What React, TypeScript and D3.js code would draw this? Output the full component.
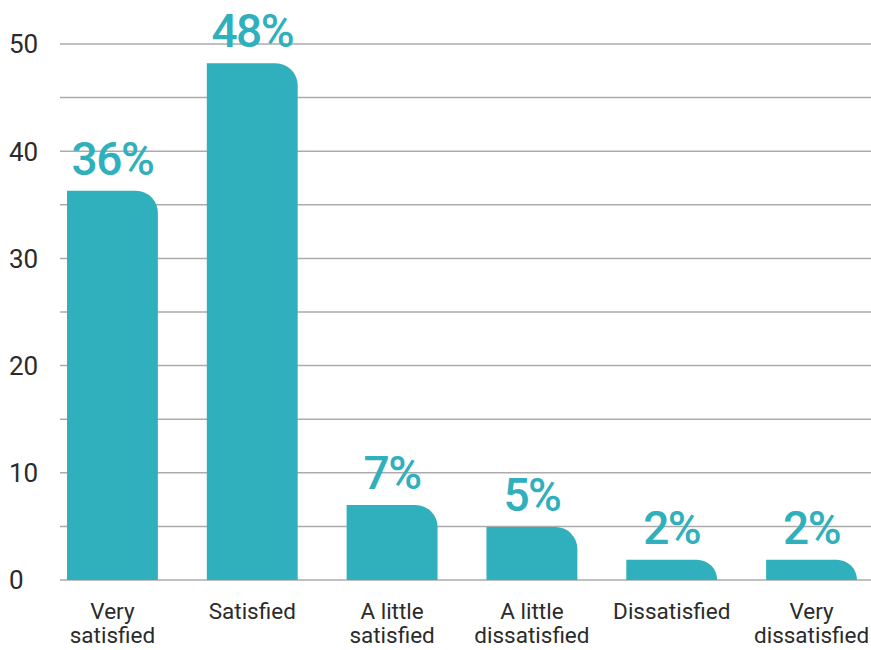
import React from "react";
import * as d3 from "d3";

const categories: string[][] = [
  ["Very", "satisfied"],
  ["Satisfied"],
  ["A little", "satisfied"],
  ["A little", "dissatisfied"],
  ["Dissatisfied"],
  ["Very", "dissatisfied"],
];
const values: number[] = [36.3, 48.2, 7.0, 4.95, 1.9, 1.9];
const valueLabels: string[] = ["36%", "48%", "7%", "5%", "2%", "2%"];
const yTickLabels: number[] = [0, 10, 20, 30, 40, 50];
const gridValues: number[] = [0, 5, 10, 15, 20, 25, 30, 35, 40, 45, 50];

const W = 871;
const H = 650;
const TEAL = "#2fb0bc";

function barPath(x: number, y: number, w: number, h: number, r: number) {
  const rr = Math.min(r, h, w);
  return `M${x},${y + h} L${x},${y} L${x + w - rr},${y} A${rr},${rr} 0 0 1 ${x + w},${y + rr} L${x + w},${y + h} Z`;
}

export default function App() {
  const y = d3.scaleLinear().domain([0, 50]).range([580, 44]);
  const x = d3
    .scaleBand<number>()
    .domain(d3.range(values.length))
    .range([60, 864])
    .paddingInner(0.35)
    .paddingOuter(0.05);

  return (
    <svg
      width={W}
      height={H}
      style={{ position: "absolute", left: 0, top: 0, background: "#fff" }}
    >
      {gridValues.map((g) => (
        <line
          key={g}
          x1={60}
          x2={W}
          y1={y(g)}
          y2={y(g)}
          stroke="#ababab"
          strokeWidth={1.5}
        />
      ))}
      {yTickLabels.map((t) => (
        <text
          key={t}
          x={9}
          y={y(t)}
          dy="0.36em"
          fontFamily="Roboto, sans-serif"
          fontWeight={400}
          fontSize={26}
          fill="#2b2b2b"
        >
          {t}
        </text>
      ))}
      {values.map((v, i) => {
        const bx = x(i)!;
        const bw = x.bandwidth();
        const by = y(v);
        const bh = y(0) - by;
        return (
          <g key={i}>
            <path d={barPath(bx, by, bw, bh, 22)} fill={TEAL} />
            <text
              x={bx + bw / 2}
              y={by - 16}
              textAnchor="middle"
              fontFamily="Roboto, sans-serif"
              fontWeight={500}
              fontSize={46}
              letterSpacing={-1.5}
              fill={TEAL}
            >
              {valueLabels[i]}
            </text>
            <text
              x={bx + bw / 2}
              y={619}
              textAnchor="middle"
              fontFamily="Roboto, sans-serif"
              fontWeight={400}
              fontSize={22.5}
              fill="#2b2b2b"
            >
              {categories[i].map((line, j) => (
                <tspan key={j} x={bx + bw / 2} dy={j === 0 ? 0 : 24}>
                  {line}
                </tspan>
              ))}
            </text>
          </g>
        );
      })}
    </svg>
  );
}
